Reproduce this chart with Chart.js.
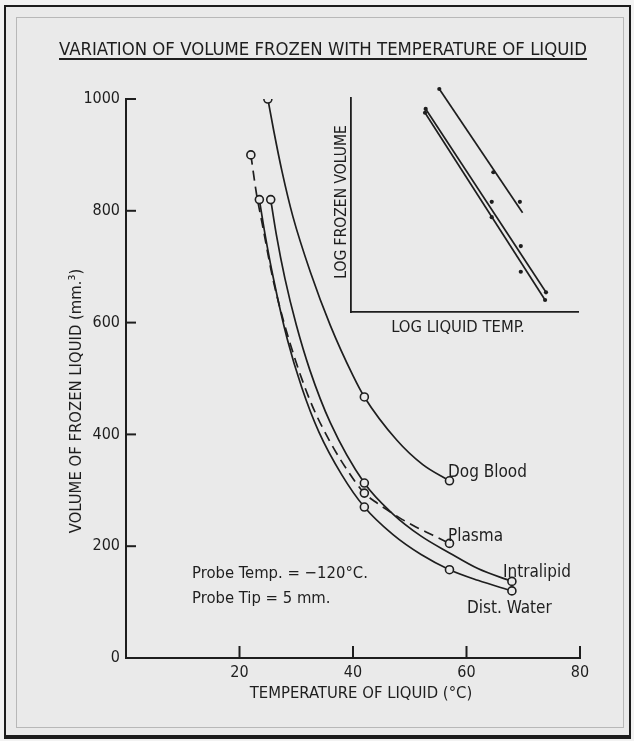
<!DOCTYPE html>
<html>
<head>
<meta charset="utf-8">
<script src="https://cdn.jsdelivr.net/npm/chart.js@4.4.0/dist/chart.umd.min.js"></script>
<style>
  html, body { margin:0; padding:0; background:#f2f2f2; }
  #page { position:relative; width:634px; height:741px; overflow:hidden; }
  #outer { position:absolute; left:4px; top:5px; width:623px; height:728px; border:2px solid #1c1c1c; border-bottom-width:4px; background:#eaeaea; }
  #inner { position:absolute; left:10px; top:10px; width:606px; height:709px; border:1px solid #b8b8b8; }
  canvas { position:absolute; }
  #main { left:0; top:0; }
  #inset { left:320px; top:70px; }
</style>
</head>
<body>
<div id="page">
  <div id="outer"><div id="inner"></div></div>
  <canvas id="main" width="634" height="741"></canvas>
  <canvas id="inset" width="280" height="280"></canvas>
</div>
<script>
/* Variation of volume frozen with temperature of liquid
   - main plot: four liquids, circles = measured points
   - inset: log/log version, straight lines */
const ink = '#1e1e1e';
const paper = '#eaeaea';
const font = '"DejaVu Sans Condensed", "DejaVu Sans", sans-serif';

// measured points (open circles): temperature degC, volume mm3
const dogBloodT = [25, 42, 57];
const dogBloodV = [1000, 467, 317];
const plasmaT = [22, 42, 57];
const plasmaV = [900, 295, 205];
const intralipidT = [25.5, 42, 68];
const intralipidV = [820, 313, 137];
const waterT = [23.5, 42, 57, 68];
const waterV = [820, 270, 158, 120];

// the drawn curves
const dogBloodCurveT = [25, 26, 27.5, 29.4, 32.5, 36, 40, 42, 47.7, 52.3, 57];
const dogBloodCurveV = [1000, 945, 870, 790, 690, 595, 505, 467, 390, 346, 317];
const plasmaCurveT = [22, 23, 24, 26, 29, 32.5, 36, 39, 42, 44, 46, 48, 50.6, 54, 57];
const plasmaCurveV = [900, 830, 777, 673, 560, 459, 386, 336, 295, 279, 265, 252, 237, 220, 205];
const intralipidCurveT = [25.5, 26.5, 28, 30, 32.4, 36, 42, 47, 52, 57, 62, 68];
const intralipidCurveV = [820, 757, 679, 596, 515, 421, 313, 258, 218, 188, 160, 137];
const waterCurveT = [23.5, 24.5, 26, 28.4, 31, 34, 38, 42, 47, 52, 57, 62, 68];
const waterCurveV = [820, 758, 678, 571, 483, 404, 328, 270, 221, 185, 158, 139, 120];

const xTicks = [0, 20, 40, 60, 80];
const yTicks = [0, 200, 400, 600, 800, 1000];

// inset (arbitrary log units, 0..100 each way)
const logDogX = [38.9, 75.6], logDogY = [104.2, 46.4];
const logMidX = [32.9, 85.9], logMidY = [94.9, 9.2];
const logLowX = [32.6, 85.5], logLowY = [93.1, 5.6];
const logDotX = [38.9, 62.7, 74.4, 32.9, 32.6, 62.0, 62.0, 74.8, 74.8, 85.9, 85.5];
const logDotY = [104.2, 65.3, 51.5, 94.9, 93.1, 51.5, 44.3, 30.8, 18.8, 9.2, 5.6];

const xy = (xs, ys) => xs.map((x, i) => ({x, y: ys[i]}));

function curveSet(xs, ys, dash){
  return {data: xy(xs, ys), borderColor: ink, borderWidth: 1.7, borderDash: dash || [],
    pointRadius: 0, cubicInterpolationMode: 'monotone', fill: false};
}
function markSet(xs, ys){
  return {data: xy(xs, ys), showLine: false, pointRadius: 4, pointBorderWidth: 1.6,
    pointBorderColor: ink, pointBackgroundColor: paper};
}

function txt(ctx, s, x, y, size, align, rot){
  ctx.save();
  ctx.translate(x, y);
  if(rot) ctx.rotate(rot);
  ctx.font = size + 'px ' + font;
  ctx.fillStyle = ink;
  ctx.textAlign = align || 'left';
  ctx.textBaseline = 'alphabetic';
  ctx.fillText(s, 0, 0);
  const w = ctx.measureText(s).width;
  ctx.restore();
  return w;
}

const decor = {
  id: 'decor',
  afterDraw(chart){
    const {ctx, scales: {x, y}, chartArea: a} = chart;
    ctx.save();
    ctx.strokeStyle = ink; ctx.lineWidth = 2;
    // ticks point into the plot
    x.ticks.forEach(t => {
      if(t.value === 0) return;
      const px = x.getPixelForValue(t.value);
      ctx.beginPath(); ctx.moveTo(px, a.bottom); ctx.lineTo(px, a.bottom - 12); ctx.stroke();
    });
    y.ticks.forEach(t => {
      if(t.value === 0) return;
      const py = y.getPixelForValue(t.value);
      ctx.beginPath(); ctx.moveTo(a.left, py); ctx.lineTo(a.left + 10, py); ctx.stroke();
    });
    // title + underline
    const tw = txt(ctx, 'VARIATION OF VOLUME FROZEN WITH TEMPERATURE OF LIQUID', 323, 55, 18.4, 'center');
    ctx.beginPath(); ctx.moveTo(323 - tw / 2, 59); ctx.lineTo(323 + tw / 2, 59); ctx.stroke();
    // axis titles
    txt(ctx, 'VOLUME OF FROZEN LIQUID (mm.\u00b3)', 81, 401, 16.5, 'center', -Math.PI / 2);
    txt(ctx, 'TEMPERATURE OF LIQUID (\u00b0C)', 361, 698, 16.5, 'center');
    // series labels
    txt(ctx, 'Dog Blood', 448, 477, 17);
    txt(ctx, 'Plasma', 448, 541, 17);
    txt(ctx, 'Intralipid', 503, 577, 17);
    txt(ctx, 'Dist. Water', 467, 613, 17);
    txt(ctx, 'Probe Temp. = \u2212120\u00b0C.', 192, 578, 16.5);
    txt(ctx, 'Probe Tip = 5 mm.', 192, 603, 16.5);
    // inset labels
    txt(ctx, 'LOG FROZEN VOLUME', 346, 202, 15.5, 'center', -Math.PI / 2);
    txt(ctx, 'LOG LIQUID TEMP.', 458, 332, 16.5, 'center');
    ctx.restore();
  }
};

new Chart(document.getElementById('main'), {
  type: 'line',
  data: {
    datasets: [
      markSet(dogBloodT, dogBloodV),
      markSet(plasmaT, plasmaV),
      markSet(intralipidT, intralipidV),
      markSet(waterT, waterV),
      curveSet(dogBloodCurveT, dogBloodCurveV),
      curveSet(plasmaCurveT, plasmaCurveV, [10, 6]),
      curveSet(intralipidCurveT, intralipidCurveV),
      curveSet(waterCurveT, waterCurveV)
    ]
  },
  options: {
    responsive: false, animation: false, devicePixelRatio: 1,
    layout: {padding: {left: 0, right: 54, top: 99, bottom: 0}},
    plugins: {legend: {display: false}, tooltip: {enabled: false}},
    scales: {
      x: {
        type: 'linear', min: xTicks[0], max: xTicks[xTicks.length - 1],
        afterFit(s){ s.height = 83; },
        afterBuildTicks(s){ s.ticks = xTicks.map(v => ({value: v})); },
        ticks: {color: ink, padding: 5, font: {family: font, size: 16},
          callback: v => v === 0 ? '' : String(v)},
        grid: {display: true, drawOnChartArea: false, drawTicks: false},
        border: {display: true, color: ink, width: 2}
      },
      y: {
        min: yTicks[0], max: yTicks[yTicks.length - 1],
        afterFit(s){ s.width = 126; },
        afterBuildTicks(s){ s.ticks = yTicks.map(v => ({value: v})); },
        ticks: {color: ink, padding: 6, font: {family: font, size: 16}, callback: v => String(v)},
        grid: {display: true, drawOnChartArea: false, drawTicks: false},
        border: {display: true, color: ink, width: 2}
      }
    }
  },
  plugins: [decor]
});

function logLine(xs, ys){
  return {data: xy(xs, ys), borderColor: ink, borderWidth: 1.7, pointRadius: 0, clip: false, tension: 0};
}

// inset dots are drawn through the inset scales (one sits above the axis top)
const insetDots = {
  id: 'insetDots',
  afterDatasetsDraw(chart){
    const {ctx, scales: {x, y}} = chart;
    ctx.save();
    ctx.fillStyle = ink;
    logDotX.forEach((v, i) => {
      ctx.beginPath();
      ctx.arc(x.getPixelForValue(v), y.getPixelForValue(logDotY[i]), 2.1, 0, Math.PI * 2);
      ctx.fill();
    });
    ctx.restore();
  }
};

new Chart(document.getElementById('inset'), {
  type: 'line',
  data: {
    datasets: [
      logLine(logDogX, logDogY),
      logLine(logMidX, logMidY),
      logLine(logLowX, logLowY)
    ]
  },
  options: {
    responsive: false, animation: false, devicePixelRatio: 1,
    layout: {padding: {left: 31, right: 22, top: 28, bottom: 38}},
    plugins: {legend: {display: false}, tooltip: {enabled: false}},
    scales: {
      x: {type: 'linear', min: 0, max: 100, afterFit(s){ s.height = 0; },
        ticks: {display: false}, grid: {display: true, drawOnChartArea: false, drawTicks: false},
        border: {display: true, color: ink, width: 1.8}},
      y: {min: 0, max: 100, afterFit(s){ s.width = 0; },
        ticks: {display: false}, grid: {display: true, drawOnChartArea: false, drawTicks: false},
        border: {display: true, color: ink, width: 1.8}}
    }
  },
  plugins: [insetDots]
});
</script>
</body>
</html>
